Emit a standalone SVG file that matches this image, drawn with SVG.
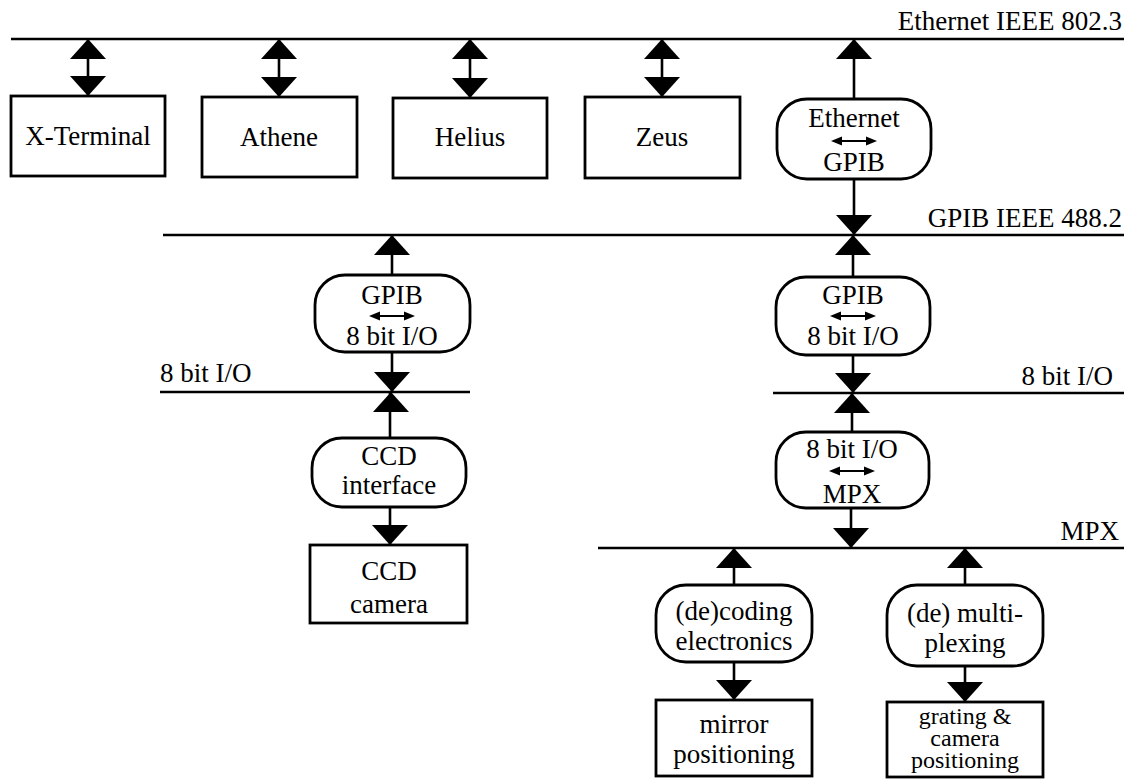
<svg xmlns="http://www.w3.org/2000/svg" xmlns:xlink="http://www.w3.org/1999/xlink" width="1126" height="779" viewBox="0 0 1126 779">
<style>
.bus{stroke:#000;stroke-width:2.6;fill:none}
.stem{stroke:#000;stroke-width:2.6;fill:none}
.box{fill:#fff;stroke:#000;stroke-width:2.8}
.t{font-family:"Liberation Serif","Times New Roman",serif;font-size:27px;fill:#000}
.s{font-size:24px}
.c{text-anchor:middle}
.r{text-anchor:end}
</style>
<defs>
<polygon id="up" points="0,0 18,20 -18,20" fill="#000"/>
<polygon id="dn" points="0,0 -18,-20 18,-20" fill="#000"/>
<g id="lr">
<line x1="-14" y1="0" x2="14" y2="0" stroke="#000" stroke-width="2"/>
<polygon points="-23,0 -12,-4.5 -12,4.5" fill="#000"/>
<polygon points="23,0 12,-4.5 12,4.5" fill="#000"/>
</g>
</defs>
<rect width="1126" height="779" fill="#fff"/>

<g id="buses">
<line class="bus" x1="11" y1="39" x2="1124" y2="39"/>
<text class="t r" x="1122" y="30">Ethernet IEEE 802.3</text>
<line class="bus" x1="163" y1="235" x2="1124" y2="235"/>
<text class="t r" x="1122" y="227">GPIB IEEE 488.2</text>
<line class="bus" x1="160" y1="392" x2="470" y2="392"/>
<text class="t" x="160" y="382">8 bit I/O</text>
<line class="bus" x1="773" y1="393" x2="1124" y2="393"/>
<text class="t r" x="1113" y="385">8 bit I/O</text>
<line class="bus" x1="598" y1="548" x2="1124" y2="548"/>
<text class="t r" x="1119" y="540">MPX</text>
</g>

<g id="connectors">
<line class="stem" x1="88" y1="39" x2="88" y2="96"/>
<use xlink:href="#up" x="88" y="39"/><use xlink:href="#dn" x="88" y="96"/>
<line class="stem" x1="279" y1="39" x2="279" y2="97"/>
<use xlink:href="#up" x="279" y="39"/><use xlink:href="#dn" x="279" y="97"/>
<line class="stem" x1="470" y1="39" x2="470" y2="98"/>
<use xlink:href="#up" x="470" y="39"/><use xlink:href="#dn" x="470" y="98"/>
<line class="stem" x1="662" y1="39" x2="662" y2="97"/>
<use xlink:href="#up" x="662" y="39"/><use xlink:href="#dn" x="662" y="97"/>
<line class="stem" x1="854" y1="39" x2="854" y2="99"/>
<use xlink:href="#up" x="854" y="39"/>
<line class="stem" x1="854" y1="179" x2="854" y2="235"/>
<use xlink:href="#dn" x="854" y="235"/>

<line class="stem" x1="392" y1="235" x2="392" y2="275"/>
<use xlink:href="#up" x="392" y="235"/>
<line class="stem" x1="392" y1="352" x2="392" y2="392"/>
<use xlink:href="#dn" x="392" y="392"/>
<line class="stem" x1="390" y1="392" x2="390" y2="438"/>
<use xlink:href="#up" x="391" y="392"/>
<line class="stem" x1="390" y1="507" x2="390" y2="545"/>
<use xlink:href="#dn" x="390" y="545"/>

<line class="stem" x1="853" y1="235" x2="853" y2="277"/>
<use xlink:href="#up" x="853" y="235"/>
<line class="stem" x1="853" y1="355" x2="853" y2="393"/>
<use xlink:href="#dn" x="853" y="393"/>
<line class="stem" x1="852" y1="393" x2="852" y2="432"/>
<use xlink:href="#up" x="852" y="393"/>
<line class="stem" x1="851" y1="508" x2="851" y2="548"/>
<use xlink:href="#dn" x="851" y="548"/>

<line class="stem" x1="734" y1="548" x2="734" y2="585"/>
<use xlink:href="#up" x="734" y="548"/>
<line class="stem" x1="734" y1="662" x2="734" y2="700"/>
<use xlink:href="#dn" x="734" y="700"/>
<line class="stem" x1="965" y1="548" x2="965" y2="585"/>
<use xlink:href="#up" x="965" y="548"/>
<line class="stem" x1="965" y1="666" x2="965" y2="702"/>
<use xlink:href="#dn" x="965" y="702"/>
</g>

<g id="x-terminal">
<rect class="box" x="11" y="96" width="154" height="80"/>
<text class="t c" x="88" y="145">X-Terminal</text>
</g>
<g id="athene">
<rect class="box" x="202" y="97" width="155" height="80"/>
<text class="t c" x="279" y="146">Athene</text>
</g>
<g id="helius">
<rect class="box" x="393" y="98" width="154" height="80"/>
<text class="t c" x="470" y="146">Helius</text>
</g>
<g id="zeus">
<rect class="box" x="585" y="97" width="155" height="81"/>
<text class="t c" x="662" y="146">Zeus</text>
</g>
<g id="ethernet-gpib">
<rect class="box" x="777" y="99" width="154" height="80" rx="30" ry="30"/>
<text class="t c" x="854" y="127">Ethernet</text>
<use xlink:href="#lr" x="854" y="141"/>
<text class="t c" x="854" y="171">GPIB</text>
</g>

<g id="gpib-8bit-left">
<rect class="box" x="315" y="275" width="155" height="77" rx="30" ry="30"/>
<text class="t c" x="392" y="304">GPIB</text>
<use xlink:href="#lr" x="392" y="316"/>
<text class="t c" x="392" y="345">8 bit I/O</text>
</g>
<g id="ccd-interface">
<rect class="box" x="312" y="438" width="154" height="69" rx="30" ry="30"/>
<text class="t c" x="389" y="465">CCD</text>
<text class="t c" x="389" y="494">interface</text>
</g>
<g id="ccd-camera">
<rect class="box" x="310" y="545" width="157" height="78"/>
<text class="t c" x="389" y="580">CCD</text>
<text class="t c" x="389" y="613">camera</text>
</g>

<g id="gpib-8bit-right">
<rect class="box" x="776" y="277" width="154" height="78" rx="30" ry="30"/>
<text class="t c" x="853" y="304">GPIB</text>
<use xlink:href="#lr" x="853" y="316"/>
<text class="t c" x="853" y="345">8 bit I/O</text>
</g>
<g id="8bit-mpx">
<rect class="box" x="776" y="432" width="153" height="76" rx="30" ry="30"/>
<text class="t c" x="852" y="458">8 bit I/O</text>
<use xlink:href="#lr" x="852" y="471"/>
<text class="t c" x="852" y="503">MPX</text>
</g>

<g id="decoding">
<rect class="box" x="656" y="585" width="156" height="77" rx="30" ry="30"/>
<text class="t c" x="734" y="620">(de)coding</text>
<text class="t c" x="734" y="650">electronics</text>
</g>
<g id="mirror">
<rect class="box" x="656" y="700" width="156" height="76"/>
<text class="t c" x="734" y="733">mirror</text>
<text class="t c" x="734" y="763">positioning</text>
</g>
<g id="demultiplexing">
<rect class="box" x="887" y="585" width="156" height="81" rx="30" ry="30"/>
<text class="t c" x="965" y="622">(de) multi-</text>
<text class="t c" x="965" y="652">plexing</text>
</g>
<g id="grating">
<rect class="box" x="887" y="702" width="156" height="75"/>
<text class="t s c" x="965" y="724">grating &amp;</text>
<text class="t s c" x="965" y="746">camera</text>
<text class="t s c" x="965" y="768">positioning</text>
</g>
</svg>
